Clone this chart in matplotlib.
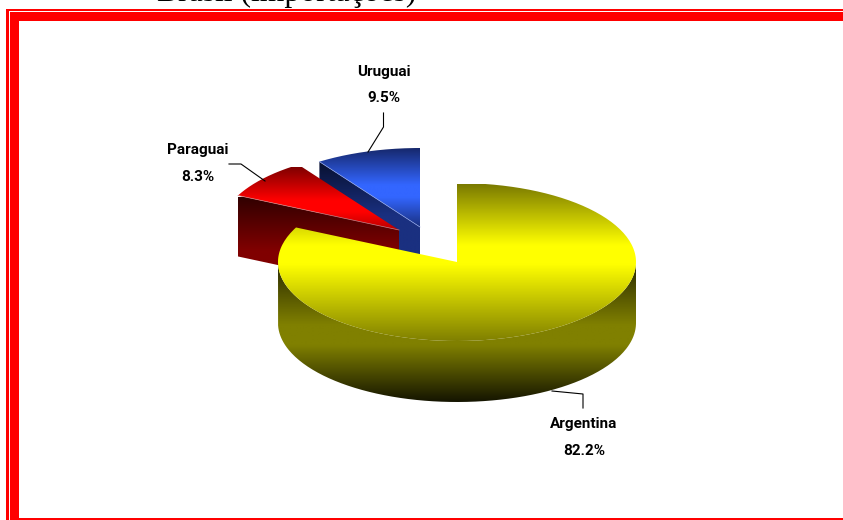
import numpy as np
import matplotlib
matplotlib.use('Agg')
import matplotlib.pyplot as plt
from matplotlib.colors import LinearSegmentedColormap
from matplotlib.patches import PathPatch, Rectangle
from matplotlib.path import Path

title = 'Brasil (importações)'
countries = ['Argentina', 'Paraguai', 'Uruguai']
shares = [82.2, 8.3, 9.5]
share_labels = ['82.2%', '8.3%', '9.5%']

# pie centres on screen, the two small slices are pulled out
centers = [(457, 262), (399, 230), (420, 227)]
rx, ry = 179, 79
depth = 61

top_stops = [
    [(184, '#7a7a00'), (245, '#ffff00'), (264, '#ffff00'), (341, '#808000')],
    [(167, '#7f0000'), (200, '#ff0000'), (212, '#ff0000'), (232, '#b00000')],
    [(148, '#16286c'), (185, '#3366ff'), (197, '#3366ff'), (227, '#1a3080')],
]
cut_stops = [
    None,
    [(197, '#300000'), (250, '#800000'), (291, '#800000')],
    [(162, '#081030'), (215, '#1a3080'), (288, '#1a3080')],
]
edge_colors = [None, '#d08080', '#8fa4e8']
wall_stops = [(265, '#2c2c00'), (325, '#808000'), (345, '#808000'), (402, '#141400')]


def rim(center, a0, a1, n=200):
    # a is measured clockwise from 12 o'clock, in degrees
    t = np.radians(np.linspace(a0, a1, n))
    return np.column_stack([center[0] + rx * np.sin(t), center[1] - ry * np.cos(t)])


def gradient_fill(ax, verts, stops):
    ys = [s[0] for s in stops]
    y0, y1 = ys[0], ys[-1]
    cmap = LinearSegmentedColormap.from_list(
        'g', [((y - y0) / (y1 - y0), c) for y, c in stops], N=256)
    patch = PathPatch(Path(np.vstack([verts, verts[:1]])), fc='none', ec='none')
    ax.add_patch(patch)
    xs = verts[:, 0]
    im = ax.imshow(np.linspace(0, 1, 256)[:, None], cmap=cmap, aspect='auto',
                   extent=(xs.min(), xs.max(), y1, y0), interpolation='bilinear',
                   zorder=ax.zo)
    im.set_clip_path(patch)
    ax.zo += 1


fig = plt.figure(figsize=(8.43, 5.2), dpi=100)
ax = fig.add_axes([0, 0, 1, 1])
ax.set_xlim(0, 843)
ax.set_ylim(520, 0)
ax.axis('off')
ax.zo = 3

# double red frame, open on the right, runs off the bottom
red = '#ff0000'
ax.add_patch(Rectangle((6, 9), 900, 600, fc=red, ec='none', zorder=1))
ax.add_patch(Rectangle((8.7, 11), 900, 600, fc='white', ec='none', zorder=1))
ax.add_patch(Rectangle((10, 12), 900, 600, fc=red, ec='none', zorder=1))
ax.add_patch(Rectangle((19, 21), 900, 497, fc='white', ec='none', zorder=1))

ax.text(287, 1.5, title, family='Liberation Serif', fontsize=22.8, ha='center',
        va='baseline', color='black', zorder=2)

# slice angles follow the shares, Argentina starts at 12 o'clock
spans = np.array(shares) / sum(shares) * 360
starts = np.concatenate([[0], np.cumsum(spans)[:-1]])

# back to front: Uruguai, Paraguai, Argentina
for i in [2, 1, 0]:
    c = centers[i]
    a0, a1 = starts[i], starts[i] + spans[i]
    if i == 0:
        wall_top = rim(c, 90, a1 if a1 < 270 else 270)
        wall = np.vstack([wall_top, wall_top[::-1] + [0, depth]])
        gradient_fill(ax, wall, wall_stops)
    else:
        edge = rim(c, a0, a0, 1)
        cut = np.array([edge[0], c, [c[0], c[1] + depth], edge[0] + [0, depth]])
        gradient_fill(ax, cut, cut_stops[i])
    gradient_fill(ax, np.vstack([[c], rim(c, a0, a1)]), top_stops[i])
    if edge_colors[i]:
        ax.plot([edge[0][0], c[0]], [edge[0][1], c[1]], color=edge_colors[i],
                lw=0.5, zorder=ax.zo)
        ax.zo += 1

# leader lines
ax.plot([368, 383.5, 383.5], [152, 127, 113], color='black', lw=0.8, zorder=90)
ax.plot([265, 241, 229], [181, 164, 164], color='black', lw=0.8, zorder=90)
ax.plot([552, 583, 583], [391, 394, 408], color='black', lw=0.8, zorder=90)

label_pos = [(584, 424, 451), (198, 150, 177), (384, 72, 98)]
for name, pct, (x, y0, y1) in zip(countries, share_labels, label_pos):
    for txt, y in ((name, y0), (pct, y1)):
        ax.text(x, y, txt, family='Roboto', fontweight='bold',
                fontsize=11, ha='center', va='center', color='black', zorder=91)

fig.savefig('out.png', dpi=100)
